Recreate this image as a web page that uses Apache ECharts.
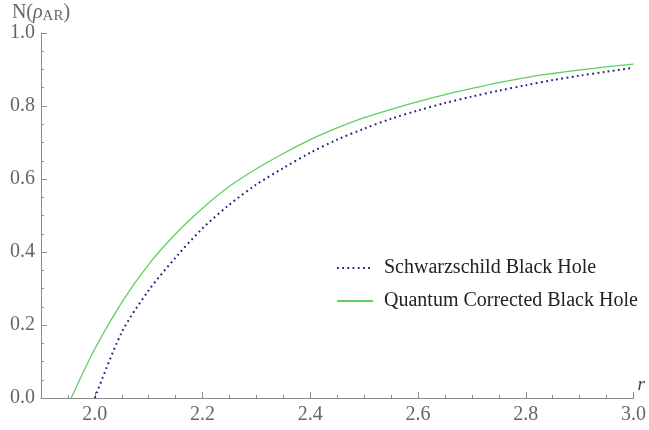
<!DOCTYPE html>
<html>
<head>
<meta charset="utf-8">
<script src="https://cdn.jsdelivr.net/npm/echarts@6/dist/echarts.min.js"></script>
<style>
  html, body { margin: 0; padding: 0; background: #fff; }
  #chart { width: 649px; height: 430px; }
</style>
</head>
<body>
<div id="chart"></div>
<script>
// values
var schwX = [2.00, 2.05, 2.10, 2.15, 2.20, 2.25, 2.30, 2.35, 2.40, 2.45, 2.50, 2.55, 2.60, 2.65, 2.70, 2.75, 2.80, 2.85, 2.90, 2.95, 3.00];
var schwY = [0.000, 0.180, 0.295, 0.385, 0.465, 0.530, 0.585, 0.630, 0.672, 0.708, 0.738, 0.765, 0.788, 0.808, 0.826, 0.842, 0.857, 0.871, 0.883, 0.894, 0.905];

var quantX = [1.956, 2.00, 2.05, 2.10, 2.15, 2.20, 2.25, 2.30, 2.35, 2.40, 2.45, 2.50, 2.55, 2.60, 2.65, 2.70, 2.75, 2.80, 2.85, 2.90, 2.95, 3.00];
var quantY = [0.000, 0.135, 0.262, 0.366, 0.450, 0.520, 0.580, 0.628, 0.670, 0.708, 0.740, 0.768, 0.791, 0.812, 0.831, 0.848, 0.864, 0.878, 0.889, 0.899, 0.907, 0.915];

var xMajorTicks = [2.0, 2.2, 2.4, 2.6, 2.8, 3.0];
var xMinorTicks = [1.95, 2.05, 2.1, 2.15, 2.25, 2.3, 2.35, 2.45, 2.5, 2.55, 2.65, 2.7, 2.75, 2.85, 2.9, 2.95];

var seriesNames = ['Schwarzschild Black Hole', 'Quantum Corrected Black Hole'];

function pairs(xs, ys) {
  return xs.map(function (x, i) { return [x, ys[i]]; });
}

var axisGrey = '#8a8a8a';
var labelGrey = '#666';
var serif = 'Liberation Serif';

var tickRich = { t: { fontFamily: serif, fontSize: 20, color: labelGrey } };
function tickFmt(v) { return '{t|' + v.toFixed(1) + '}'; }

var chart = echarts.init(document.getElementById('chart'));
chart.setOption({
  animation: false,
  grid: { left: 41, right: 12, top: 33, bottom: 32 },
  legend: {
    orient: 'vertical',
    left: 331,
    top: 253,
    itemGap: 13,
    itemWidth: 36,
    itemHeight: 10,
    itemStyle: { opacity: 0 },
    formatter: function (name) { return '{l|' + name + '}'; },
    textStyle: {
      padding: [0, 0, 0, 6],
      rich: { l: { fontFamily: serif, fontSize: 20, color: '#222' } }
    },
    data: seriesNames
  },
  xAxis: [
    {
      type: 'value',
      min: 1.9,
      max: 3.0,
      name: '{r|r}',
      nameLocation: 'end',
      nameGap: 4,
      nameTextStyle: {
        verticalAlign: 'bottom',
        padding: [0, 0, 4, 0],
        rich: { r: { fontFamily: serif, fontStyle: 'italic', fontSize: 19, color: '#444' } }
      },
      axisLine: { lineStyle: { color: axisGrey, width: 1 } },
      axisTick: { show: true, inside: true, length: 6, customValues: xMajorTicks, lineStyle: { color: axisGrey } },
      axisLabel: { customValues: xMajorTicks, margin: 7, formatter: tickFmt, rich: tickRich },
      splitLine: { show: false }
    },
    {
      type: 'value',
      position: 'bottom',
      min: 1.9,
      max: 3.0,
      axisLine: { show: false },
      axisTick: { show: true, inside: true, length: 3, customValues: xMinorTicks, lineStyle: { color: axisGrey } },
      axisLabel: { show: false },
      splitLine: { show: false }
    }
  ],
  yAxis: {
    type: 'value',
    min: 0,
    max: 1,
    interval: 0.2,
    name: '{n|N(}{rho|ρ}{sub|AR}{n|)}',
    nameLocation: 'end',
    nameGap: 9,
    nameTextStyle: {
      rich: {
        n: { fontFamily: serif, fontSize: 20, color: labelGrey },
        rho: { fontFamily: serif, fontStyle: 'italic', fontSize: 20, color: labelGrey },
        sub: { fontFamily: serif, fontSize: 15, color: labelGrey, verticalAlign: 'bottom', padding: [6, 0, 0, 0] }
      }
    },
    axisLine: { show: true, lineStyle: { color: axisGrey, width: 1 } },
    axisTick: { show: true, inside: true, length: 6, lineStyle: { color: axisGrey } },
    minorTick: { show: true, splitNumber: 4, length: 3, lineStyle: { color: axisGrey } },
    axisLabel: { margin: 6, formatter: tickFmt, rich: tickRich },
    splitLine: { show: false }
  },
  series: [
    {
      name: seriesNames[0],
      type: 'line',
      smooth: 0.3,
      symbol: 'none',
      data: pairs(schwX, schwY),
      lineStyle: { color: '#23237a', width: 2, type: [1.8, 3.4] },
      itemStyle: { color: '#23237a' },
      z: 3
    },
    {
      name: seriesNames[1],
      type: 'line',
      smooth: 0.3,
      symbol: 'none',
      data: pairs(quantX, quantY),
      lineStyle: { color: '#5fcf5f', width: 1.3 },
      itemStyle: { color: '#5fcf5f' },
      z: 2
    }
  ]
});
</script>
</body>
</html>
